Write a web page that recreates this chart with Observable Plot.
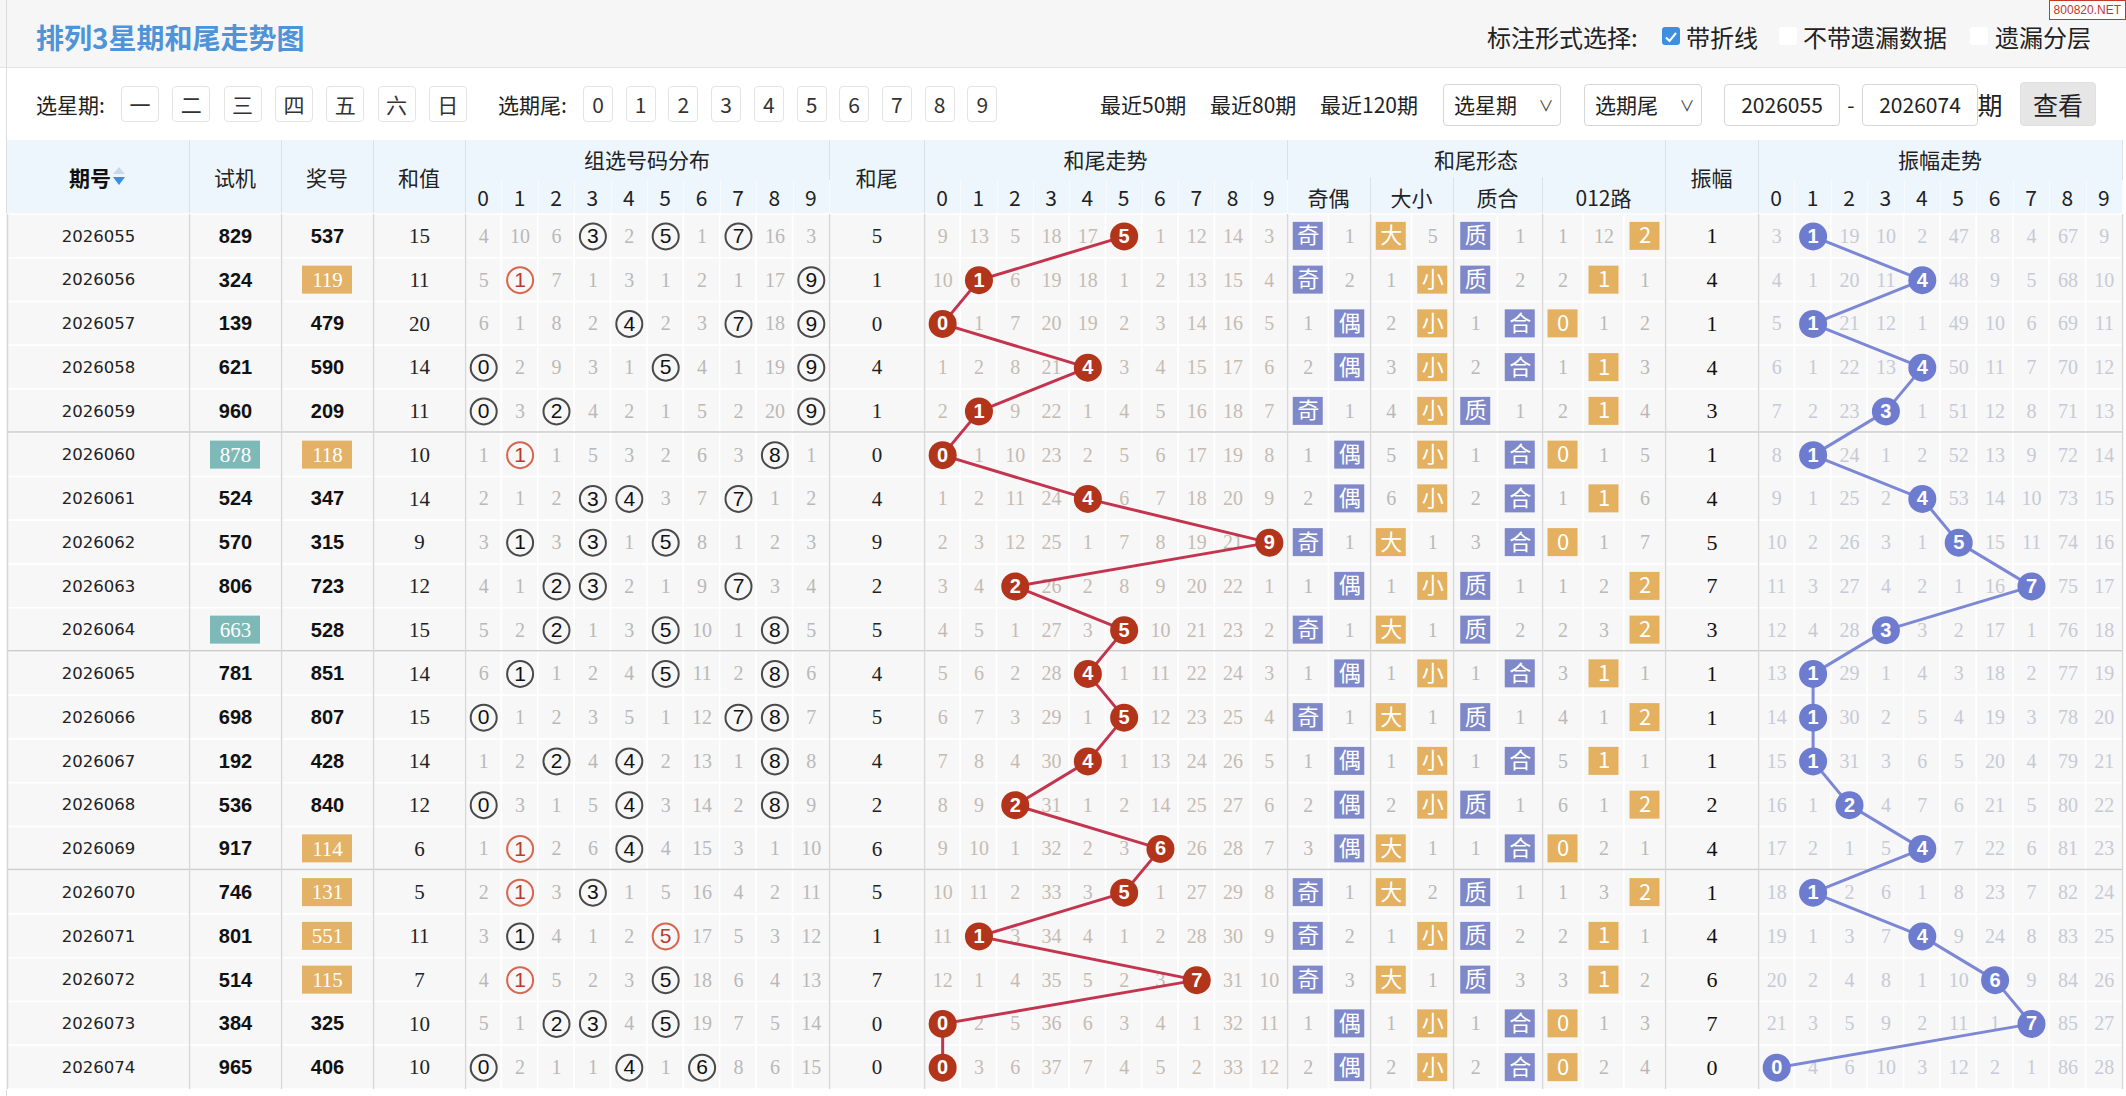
<!DOCTYPE html>
<html><head><meta charset="utf-8"><title>排列3星期和尾走势图</title>
<script src="https://cdn.jsdelivr.net/npm/d3@7"></script>
<script src="https://cdn.jsdelivr.net/npm/@observablehq/plot@0.6"></script>
<style>
html,body{margin:0;padding:0;}
body{width:2126px;height:1096px;overflow:hidden;background:#fff;position:relative;font-family:"Noto Sans CJK SC","Noto Sans",sans-serif;color:#222;}
.a{position:absolute;white-space:nowrap;line-height:1;}
.c{transform:translate(-50%,-50%);}
.l{transform:translateY(-50%);}
#topbar{position:absolute;left:0;top:0;width:2126px;height:68px;background:#f6f6f6;border-bottom:1px solid #e3e3e3;box-sizing:border-box;}
#hdr{position:absolute;left:0;top:140px;width:2126px;height:74px;}
#body{position:absolute;left:0;top:214px;width:2126px;}
#body svg{max-width:none;display:block;}
.box{position:absolute;box-sizing:border-box;border:1px solid #e4e4e4;border-radius:4px;background:#fff;}
.cb{position:absolute;width:18px;height:18px;box-sizing:border-box;border-radius:3px;}
#wm{position:absolute;right:0;top:0;font-size:12px;color:#c0392b;border:1px solid #c0392b;background:#fff;padding:3px 4px;font-family:"Liberation Sans";line-height:1;}
</style></head><body>
<div id="topbar"></div>
<div id="ui"></div>
<div id="hdr"></div>
<div id="body"></div>
<div id="wm">800820.NET</div>
<script>
// ---------------- data ----------------
const periods = ["2026055","2026056","2026057","2026058","2026059","2026060","2026061","2026062","2026063","2026064","2026065","2026066","2026067","2026068","2026069","2026070","2026071","2026072","2026073","2026074"];
const trialNums = ["829","324","139","621","960","878","524","570","806","663","781","698","192","536","917","746","801","514","384","965"];
const drawNums = ["537","119","479","590","209","118","347","315","723","528","851","807","428","840","114","131","551","115","325","406"];
const sumValues = [15,11,20,14,11,10,14,9,12,15,14,15,14,12,6,5,11,7,10,10];
const tailValues = [5,1,0,4,1,0,4,9,2,5,4,5,4,2,6,5,1,7,0,0];
const ampValues = [1,4,1,4,3,1,4,5,7,3,1,1,1,2,4,1,4,6,7,0];
const digitLabels = ["0","1","2","3","4","5","6","7","8","9"];
const shapeLabels = ["奇","偶","大","小","质","合","0","1","2"];
const shapeGroups = ["奇偶","大小","质合","012路"];
// omission counts, 0 = drawn this period
const groupMiss = [
 [4,10,6,0,2,0,1,0,16,3],[5,0,7,1,3,1,2,1,17,0],[6,1,8,2,0,2,3,0,18,0],[0,2,9,3,1,0,4,1,19,0],[0,3,0,4,2,1,5,2,20,0],
 [1,0,1,5,3,2,6,3,0,1],[2,1,2,0,0,3,7,0,1,2],[3,0,3,0,1,0,8,1,2,3],[4,1,0,0,2,1,9,0,3,4],[5,2,0,1,3,0,10,1,0,5],
 [6,0,1,2,4,0,11,2,0,6],[0,1,2,3,5,1,12,0,0,7],[1,2,0,4,0,2,13,1,0,8],[0,3,1,5,0,3,14,2,0,9],[1,0,2,6,0,4,15,3,1,10],
 [2,0,3,0,1,5,16,4,2,11],[3,0,4,1,2,0,17,5,3,12],[4,0,5,2,3,0,18,6,4,13],[5,1,0,0,4,0,19,7,5,14],[0,2,1,1,0,1,0,8,6,15]];
const tailMiss = [
 [9,13,5,18,17,0,1,12,14,3],[10,0,6,19,18,1,2,13,15,4],[0,1,7,20,19,2,3,14,16,5],[1,2,8,21,0,3,4,15,17,6],[2,0,9,22,1,4,5,16,18,7],
 [0,1,10,23,2,5,6,17,19,8],[1,2,11,24,0,6,7,18,20,9],[2,3,12,25,1,7,8,19,21,0],[3,4,0,26,2,8,9,20,22,1],[4,5,1,27,3,0,10,21,23,2],
 [5,6,2,28,0,1,11,22,24,3],[6,7,3,29,1,0,12,23,25,4],[7,8,4,30,0,1,13,24,26,5],[8,9,0,31,1,2,14,25,27,6],[9,10,1,32,2,3,0,26,28,7],
 [10,11,2,33,3,0,1,27,29,8],[11,0,3,34,4,1,2,28,30,9],[12,1,4,35,5,2,3,0,31,10],[0,2,5,36,6,3,4,1,32,11],[0,3,6,37,7,4,5,2,33,12]];
const shapeMiss = [
 [0,1,0,5,0,1,1,12,0],[0,2,1,0,0,2,2,0,1],[1,0,2,0,1,0,0,1,2],[2,0,3,0,2,0,1,0,3],[0,1,4,0,0,1,2,0,4],
 [1,0,5,0,1,0,0,1,5],[2,0,6,0,2,0,1,0,6],[0,1,0,1,3,0,0,1,7],[1,0,1,0,0,1,1,2,0],[0,1,0,1,0,2,2,3,0],
 [1,0,1,0,1,0,3,0,1],[0,1,0,1,0,1,4,1,0],[1,0,1,0,1,0,5,0,1],[2,0,2,0,0,1,6,1,0],[3,0,0,1,1,0,0,2,1],
 [0,1,0,2,0,1,1,3,0],[0,2,1,0,0,2,2,0,1],[0,3,0,1,0,3,3,0,2],[1,0,1,0,1,0,0,1,3],[2,0,2,0,2,0,0,2,4]];
const ampMiss = [
 [3,0,19,10,2,47,8,4,67,9],[4,1,20,11,0,48,9,5,68,10],[5,0,21,12,1,49,10,6,69,11],[6,1,22,13,0,50,11,7,70,12],[7,2,23,0,1,51,12,8,71,13],
 [8,0,24,1,2,52,13,9,72,14],[9,1,25,2,0,53,14,10,73,15],[10,2,26,3,1,0,15,11,74,16],[11,3,27,4,2,1,16,0,75,17],[12,4,28,0,3,2,17,1,76,18],
 [13,0,29,1,4,3,18,2,77,19],[14,0,30,2,5,4,19,3,78,20],[15,0,31,3,6,5,20,4,79,21],[16,1,0,4,7,6,21,5,80,22],[17,2,1,5,0,7,22,6,81,23],
 [18,0,2,6,1,8,23,7,82,24],[19,1,3,7,0,9,24,8,83,25],[20,2,4,8,1,10,0,9,84,26],[21,3,5,9,2,11,1,0,85,27],[0,4,6,10,3,12,2,1,86,28]];

// ---------------- layout (styling only) ----------------
const W = 2126;
const L = {
  period:[7,189], trial:[189,281], draw:[281,373], sum:[373,465],
  group:[465,829], tail:[829,924], tailTrend:[924,1287], shape:[1287,1665], amp:[1665,1758], ampTrend:[1758,2122]
};
const shapeEdges = [1287,1370,1453,1542,1665];
const shapeCounts = [2,2,2,3];
const mid = a => (a[0]+a[1])/2;
const split = (a,n) => d3.range(n).map(k => [a[0]+(a[1]-a[0])*k/n, a[0]+(a[1]-a[0])*(k+1)/n]);
const groupCells = split(L.group,10), tailCells = split(L.tailTrend,10), ampCells = split(L.ampTrend,10);
const shapeCells = shapeCounts.flatMap((n,g) => split([shapeEdges[g],shapeEdges[g+1]],n));
const shapeColor = ["#7f88c9","#7f88c9","#e3b160","#e3b160","#7f88c9","#7f88c9","#e3b160","#e3b160","#e3b160"];
const leafCells = [L.period,L.trial,L.draw,L.sum,...groupCells,L.tail,...tailCells,...shapeCells,L.amp,...ampCells];

// ---------------- HTML top ----------------
const ui = document.getElementById("ui");
function put(parent, html, x, y, cls, style){const s=document.createElement("span");s.className="a "+cls;s.style.left=x+"px";s.style.top=y+"px";s.innerHTML=html;if(style)s.style.cssText+=style;parent.appendChild(s);return s;}
function box(parent,x,y,w,h,style){const d=document.createElement("div");d.className="box";d.style.cssText+=`left:${x}px;top:${y}px;width:${w}px;height:${h}px;`+(style||"");parent.appendChild(d);return d;}
box(ui,6,0,1,1096,"border:none;border-radius:0;background:#dcdcdc;");
put(ui,"排列3星期和尾走势图",36,37,"l","font-size:28px;font-weight:bold;color:#4f93d9;");
put(ui,"标注形式选择:",1487,37,"l","font-size:24px;color:#222;");
const cb1=document.createElement("div");cb1.className="cb";cb1.style.cssText+="left:1662px;top:27px;background:#3f8fe0;";cb1.innerHTML='<svg width="18" height="18"><path d="M4 9.5 L7.5 13 L14 5" stroke="#fff" stroke-width="2" fill="none"/></svg>';ui.appendChild(cb1);
put(ui,"带折线",1686,37,"l","font-size:24px;color:#222;");
const cb2=document.createElement("div");cb2.className="cb";cb2.style.cssText+="left:1779px;top:27px;background:#fff;";ui.appendChild(cb2);
put(ui,"不带遗漏数据",1803,37,"l","font-size:24px;color:#222;");
const cb3=document.createElement("div");cb3.className="cb";cb3.style.cssText+="left:1970px;top:27px;background:#fff;";ui.appendChild(cb3);
put(ui,"遗漏分层",1995,37,"l","font-size:24px;color:#222;");
const fy = 104;
put(ui,"选星期:",36,fy,"l","font-size:21px;color:#222;");
["一","二","三","四","五","六","日"].forEach((t,i)=>{const cx=140+i*51.3;box(ui,cx-19,fy-18,38,36);put(ui,t,cx,fy,"c","font-size:21px;color:#333;");});
put(ui,"选期尾:",498,fy,"l","font-size:21px;color:#222;");
digitLabels.forEach((t,i)=>{const cx=598+i*42.7;box(ui,cx-15,fy-18,30,36);put(ui,t,cx,fy,"c","font-size:21px;color:#333;");});
put(ui,"最近50期",1100,fy,"l","font-size:21px;color:#222;");
put(ui,"最近80期",1210,fy,"l","font-size:21px;color:#222;");
put(ui,"最近120期",1320,fy,"l","font-size:21px;color:#222;");
box(ui,1443,84,118,42,"border-color:#d6d6d6;");put(ui,"选星期",1454,fy,"l","font-size:21px;color:#222;");put(ui,"∨",1546,fy,"c","font-size:15px;color:#444;");
box(ui,1584,84,118,42,"border-color:#d6d6d6;");put(ui,"选期尾",1595,fy,"l","font-size:21px;color:#222;");put(ui,"∨",1687,fy,"c","font-size:15px;color:#444;");
box(ui,1724,84,116,42,"border-color:#d6d6d6;");put(ui,"2026055",1782,fy,"c","font-size:21px;color:#222;");
put(ui,"-",1851,fy,"c","font-size:21px;color:#222;");
box(ui,1862,84,116,42,"border-color:#d6d6d6;");put(ui,"2026074",1920,fy,"c","font-size:21px;color:#222;");
put(ui,"期",1990,fy,"c","font-size:25px;color:#222;");
box(ui,2020,82,76,44,"background:#e6e6e6;border-color:#e0e0e0;");put(ui,"查看",2058,fy,"c","font-size:25px;color:#222;");

// ---------------- header ----------------
const hdr = document.getElementById("hdr");
box(hdr,7,0,2115,74,"border:none;border-radius:0;background:#eef6fd;");
const hdrLines = [189,281,373,465,829,924,1287,1665,1758,2122];
hdrLines.forEach(x=>box(hdr,x,0,1,74,"border:none;border-radius:0;background:#d9e2ea;"));
shapeEdges.slice(1,4).forEach(x=>box(hdr,x,37,1,37,"border:none;border-radius:0;background:#d9e2ea;"));
[...groupCells,...tailCells,...ampCells].forEach(c=>box(hdr,c[1],40,1,34,"border:none;border-radius:0;background:#f8fbfe;"));
const hs = "font-size:21px;color:#222;";
put(hdr,"期号",90,37,"c","font-size:21px;font-weight:bold;color:#111;");
put(hdr,"",113,27,"","width:0;height:0;border-left:6px solid transparent;border-right:6px solid transparent;border-bottom:7px solid #c9d9ea;");
put(hdr,"",113,37,"","width:0;height:0;border-left:6px solid transparent;border-right:6px solid transparent;border-top:8px solid #3b8fe3;");
put(hdr,"试机",mid(L.trial),37,"c",hs);
put(hdr,"奖号",mid(L.draw),37,"c",hs);
put(hdr,"和值",mid(L.sum),37,"c",hs);
put(hdr,"和尾",mid(L.tail),37,"c",hs);
put(hdr,"振幅",mid(L.amp),37,"c",hs);
put(hdr,"组选号码分布",mid(L.group),19,"c",hs);
put(hdr,"和尾走势",mid(L.tailTrend),19,"c",hs);
put(hdr,"和尾形态",mid(L.shape),19,"c",hs);
put(hdr,"振幅走势",mid(L.ampTrend),19,"c",hs);
[groupCells,tailCells,ampCells].forEach(cells=>cells.forEach((c,i)=>put(hdr,digitLabels[i],mid(c),57,"c",hs)));
shapeGroups.forEach((t,g)=>put(hdr,t,(shapeEdges[g]+shapeEdges[g+1])/2,57,"c",hs));

// ---------------- body (Plot) ----------------
const H = 882, MB = 7, rowH = (H-MB)/periods.length;
const rows = periods.map((p,i)=>({p,i}));
const isPair = s => new Set(s).size < s.length;
const cellData = rows.flatMap(r => leafCells.map(c => ({p:r.p, x0:c[0], x1:c[1]})));
const sepRows = rows.filter(r => r.i%5===4 && r.i<periods.length-1);
const colText = (key, vals) => rows.map(r => ({p:r.p, x:mid(L[key]), t:String(vals[r.i])}));
const trialHi = rows.filter(r=>isPair(trialNums[r.i])).map(r=>({p:r.p,x0:mid(L.trial)-25,x1:mid(L.trial)+25}));
const drawHi = rows.filter(r=>isPair(drawNums[r.i])).map(r=>({p:r.p,x0:mid(L.draw)-25,x1:mid(L.draw)+25}));
const grid = (miss, cells, labels) => rows.flatMap(r => miss[r.i].map((v,k)=>({p:r.p, i:r.i, k, v, x:mid(cells[k]), t: v===0 ? labels[k] : String(v)})));
const gGrid = grid(groupMiss, groupCells, digitLabels);
const tGrid = grid(tailMiss, tailCells, digitLabels);
const sGrid = grid(shapeMiss, shapeCells, shapeLabels);
const aGrid = grid(ampMiss, ampCells, digitLabels);
const gHit = gGrid.filter(d=>d.v===0).map(d=>({...d, dup: drawNums[d.i].split("").filter(c=>c===d.t).length>1}));
const tPts = rows.map(r=>({p:r.p, x:mid(tailCells[tailValues[r.i]]), t:String(tailValues[r.i])}));
const aPts = rows.map(r=>({p:r.p, x:mid(ampCells[ampValues[r.i]]), t:String(ampValues[r.i])}));
const sHit = sGrid.filter(d=>d.v===0).map(d=>({...d, x0:d.x-15, x1:d.x+15, fill:shapeColor[d.k]}));
const serif = "Liberation Serif";
const sans = "Liberation Sans";
const inset = (rowH-28)/2;
const trialT = colText("trial", trialNums), drawT = colText("draw", drawNums);

const chart = Plot.plot({
  width: W, height: H, marginTop:0, marginLeft:0, marginRight:0, marginBottom: MB,
  x: {type:"linear", domain:[0,W], range:[0,W], axis:null},
  y: {type:"band", domain: periods, padding:0, round:false, axis:null},
  style: {background:"transparent", overflow:"visible"},
  marks: [
    Plot.barX(cellData, {x1:"x0", x2:"x1", y:"p", fill:"#f7f7f7", stroke:"#ffffff", strokeWidth:1.5}),
    Plot.barX(sepRows, {x1:()=>L.period[0], x2:()=>L.ampTrend[1], y:"p", insetTop: rowH-1.5, fill:"#cdcdcd"}),
    Plot.ruleX([...hdrLines, L.period[0], ...shapeEdges.slice(1,4)], {stroke:"#d8d8d8", strokeWidth:1.5}),
    Plot.barX(trialHi, {x1:"x0", x2:"x1", y:"p", insetTop:inset, insetBottom:inset, fill:"#7db9b7"}),
    Plot.barX(drawHi, {x1:"x0", x2:"x1", y:"p", insetTop:inset, insetBottom:inset, fill:"#e3b266"}),
    Plot.text(colText("period", periods), {x:"x", y:"p", text:"t", fontSize:16.5, fontFamily:"DejaVu Sans", fill:"#222"}),
    Plot.text(trialT.filter(d=>!isPair(d.t)), {x:"x", y:"p", text:"t", fontSize:20, fontWeight:"bold", fontFamily:sans, fill:"#111"}),
    Plot.text(trialT.filter(d=>isPair(d.t)), {x:"x", y:"p", text:"t", fontSize:21, fontFamily:serif, fill:"#fff"}),
    Plot.text(drawT.filter(d=>!isPair(d.t)), {x:"x", y:"p", text:"t", fontSize:20, fontWeight:"bold", fontFamily:sans, fill:"#111"}),
    Plot.text(drawT.filter(d=>isPair(d.t)), {x:"x", y:"p", text:"t", fontSize:21, fontFamily:serif, fill:"#fff"}),
    Plot.text(colText("sum", sumValues), {x:"x", y:"p", text:"t", fontSize:21, fontFamily:serif, fill:"#222"}),
    // group distribution
    Plot.text(gGrid.filter(d=>d.v>0), {x:"x", y:"p", text:"t", fontSize:20, fontFamily:serif, fill:"#b9b9b9"}),
    Plot.dot(gHit, {x:"x", y:"p", r:13, fill:"#f7f7f7", stroke:d=>d.dup?"#d8664f":"#4a4a4a", strokeWidth:2}),
    Plot.text(gHit, {x:"x", y:"p", text:"t", fontSize:21, fontFamily:sans, fill:d=>d.dup?"#b83b2c":"#111"}),
    // tail
    Plot.text(colText("tail", tailValues), {x:"x", y:"p", text:"t", fontSize:21, fontFamily:serif, fill:"#222"}),
    Plot.text(tGrid.filter(d=>d.v>0), {x:"x", y:"p", text:"t", fontSize:20, fontFamily:serif, fill:"#c6bbb3"}),
    Plot.line(tPts, {x:"x", y:"p", stroke:"#c4344e", strokeWidth:3}),
    Plot.dot(tPts, {x:"x", y:"p", r:14, fill:"#b2341a"}),
    Plot.text(tPts, {x:"x", y:"p", text:"t", fontSize:20, fontWeight:"bold", fontFamily:sans, fill:"#fff"}),
    // shape
    Plot.text(sGrid.filter(d=>d.v>0), {x:"x", y:"p", text:"t", fontSize:20, fontFamily:serif, fill:"#b9b9b9"}),
    Plot.barX(sHit, {x1:"x0", x2:"x1", y:"p", insetTop:(rowH-28)/2, insetBottom:(rowH-28)/2, fill:"fill"}),
    Plot.text(sHit, {x:"x", y:"p", text:"t", fontSize:22, fontFamily:"Noto Sans CJK SC", fontWeight:d=>/\d/.test(d.t)?"bold":"normal", fill:"#fff"}),
    // amplitude
    Plot.text(colText("amp", ampValues), {x:"x", y:"p", text:"t", fontSize:22, fontFamily:serif, fill:"#111"}),
    Plot.text(aGrid.filter(d=>d.v>0), {x:"x", y:"p", text:"t", fontSize:20, fontFamily:serif, fill:"#c7cad6"}),
    Plot.line(aPts, {x:"x", y:"p", stroke:"#7c87d5", strokeWidth:3}),
    Plot.dot(aPts, {x:"x", y:"p", r:14, fill:"#6e7ccf"}),
    Plot.text(aPts, {x:"x", y:"p", text:"t", fontSize:20, fontWeight:"bold", fontFamily:sans, fill:"#fff"})
  ]
});
document.getElementById("body").appendChild(chart);
</script>
</body></html>
